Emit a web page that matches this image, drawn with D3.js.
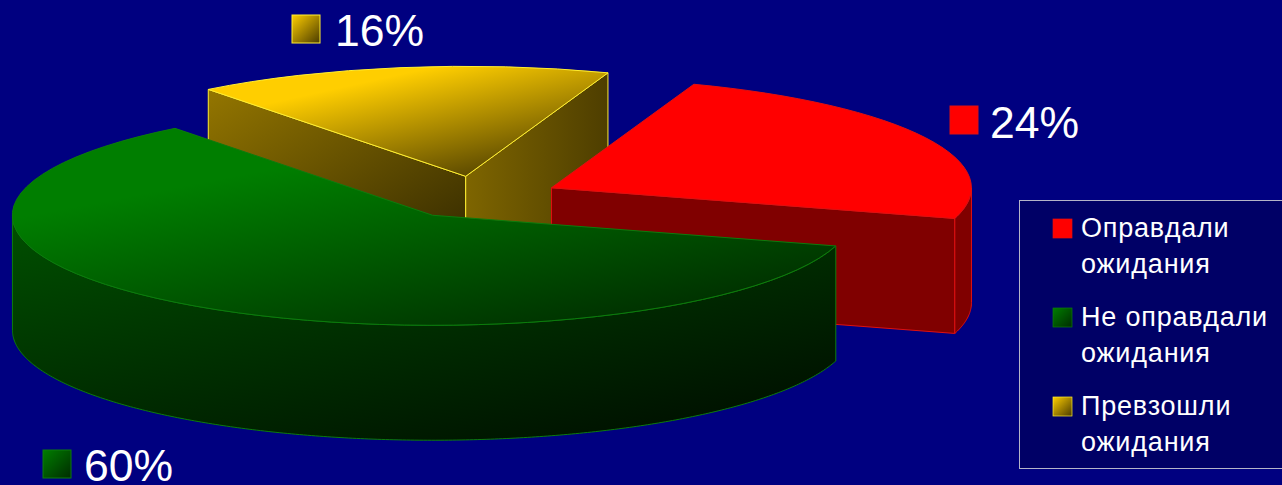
<!DOCTYPE html>
<meta charset="utf-8">
<style>
    html, body { margin: 0; padding: 0; background: #000080; overflow: hidden; }
    svg { display: block; }
    text { font-family: "Liberation Sans", Arial, sans-serif; fill: #fff; }
</style>
<body>
<script src="https://d3js.org/d3.v7.min.js"></script>
<script>
// data
var categories = ["Оправдали ожидания", "Не оправдали ожидания", "Превзошли ожидания"];
var legendLines = [["Оправдали", "ожидания"], ["Не оправдали", "ожидания"], ["Превзошли", "ожидания"]];
var values = [24, 60, 16];
var percentLabels = ["24%", "60%", "16%"];

// colours per slice
var topFrom = ["#ff0000", "#007e00", "#ffce00"];
var topTo = ["#ff0000", "#002c00", "#4a3b00"];
var wallFrom = ["#800000", "#005000", "#947600"];
var wallTo = ["#800000", "#001000", "#322800"];
var edge = ["#e01010", "#0c7c0c", "#ffee30"];

// layout
var width = 1282, height = 485;
var cx = 478.5, cy = 197.5, rx = 420, ry = 110, depth = 115, explode = 0.195;
var firstAngle = 19.8 * Math.PI / 180;
var labelPos = [[950, 106, 990, 138], [43, 450, 84, 481], [292, 15, 335, 46]];
var drawOrder = [2, 0, 1]; // back to front

var svg = d3.select("body").append("svg")
    .attr("width", width)
    .attr("height", height);
var defs = svg.append("defs");

function gradient(id, from, to, x2, y2, hold) {
    var g = defs.append("linearGradient").attr("id", id)
        .attr("x1", 0).attr("y1", 0).attr("x2", x2).attr("y2", y2);
    g.append("stop").attr("offset", (hold || 0) + "%").attr("stop-color", from);
    g.append("stop").attr("offset", "100%").attr("stop-color", to);
}
values.forEach(function (v, i) {
    gradient("top" + i, topFrom[i], topTo[i], 0.8, 1, 28);
    gradient("wall" + i, wallFrom[i], wallTo[i], 0.8, 1);
    gradient("swatch" + i, topFrom[i], topTo[i], 1, 1);
});
// the two inner walls of the yellow slice run in different directions
gradient("wallRight2", "#7e6500", "#4e3e00", 1, 0);

var pie = d3.pie().sort(null).startAngle(firstAngle).endAngle(firstAngle + 2 * Math.PI);
var arcs = pie(values);

// ellipse scales, unit circle to screen
var sx = d3.scaleLinear().domain([-1, 1]).range([cx - rx, cx + rx]);
var sy = d3.scaleLinear().domain([-1, 1]).range([cy - ry, cy + ry]);

function rimX(a, off) { return sx(Math.sin(a) + off.x); }
function rimY(a, off) { return sy(-Math.cos(a) + off.y); }

var arcGen = d3.arc().innerRadius(0).outerRadius(1);
var lineGen = d3.line().x(function (d) { return d[0]; }).y(function (d) { return d[1]; });

var chart = svg.append("g");

function radialWall(off, a, fill, col) {
    var x0 = sx(off.x), y0 = sy(off.y);
    var x1 = rimX(a, off), y1 = rimY(a, off);
    chart.append("path")
        .attr("d", lineGen([[x0, y0], [x1, y1], [x1, y1 + depth], [x0, y0 + depth]]) + "Z")
        .attr("fill", fill)
        .attr("stroke", col)
        .attr("stroke-width", 1);
}

drawOrder.forEach(function (i) {
    var d = arcs[i];
    var mid = (d.startAngle + d.endAngle) / 2;
    var off = { x: explode * Math.sin(mid), y: -explode * Math.cos(mid) };

    // flat walls along the two radii, only the ones facing the viewer
    if (Math.sin(d.startAngle) < 0) radialWall(off, d.startAngle, "url(#wall" + i + ")", edge[i]);
    if (Math.sin(d.endAngle) > 0) radialWall(off, d.endAngle, i === 2 ? "url(#wallRight2)" : "url(#wall" + i + ")", edge[i]);

    // curved outer wall, front half of the pie only
    var a0 = Math.max(d.startAngle, Math.PI / 2);
    var a1 = Math.min(d.endAngle, 3 * Math.PI / 2);
    if (a1 > a0) {
        var area = d3.area()
            .x(function (a) { return rimX(a, off); })
            .y0(function (a) { return rimY(a, off); })
            .y1(function (a) { return rimY(a, off) + depth; });
        chart.append("path")
            .attr("d", area(d3.range(a0, a1, 0.01).concat([a1])))
            .attr("fill", "url(#wall" + i + ")")
            .attr("stroke", edge[i])
            .attr("stroke-width", 1);
    }

    // top face
    chart.append("path")
        .attr("d", arcGen(d))
        .attr("transform", "translate(" + sx(off.x) + "," + sy(off.y) + ") scale(" + rx + "," + ry + ")")
        .attr("fill", "url(#top" + i + ")")
        .attr("stroke", edge[i])
        .attr("stroke-width", 1)
        .attr("vector-effect", "non-scaling-stroke");
});

// percent labels with their swatches
var labels = svg.append("g").selectAll("g").data(percentLabels).join("g");
labels.append("rect")
    .attr("x", function (d, i) { return labelPos[i][0]; })
    .attr("y", function (d, i) { return labelPos[i][1]; })
    .attr("width", 28).attr("height", 28)
    .attr("fill", function (d, i) { return "url(#swatch" + i + ")"; })
    .attr("stroke", function (d, i) { return edge[i]; })
    .attr("stroke-width", 1);
labels.append("text")
    .attr("x", function (d, i) { return labelPos[i][2]; })
    .attr("y", function (d, i) { return labelPos[i][3]; })
    .attr("font-size", 44.5)
    .text(function (d) { return d; });

// legend, its frame runs off the right edge of the picture
var legend = svg.append("g");
legend.append("rect")
    .attr("x", 1019.5).attr("y", 200.5)
    .attr("width", 300).attr("height", 268)
    .attr("fill", "#000066")
    .attr("stroke", "#b4b4c8")
    .attr("stroke-width", 1);

var legendY = d3.scalePoint().domain(categories).range([219, 397]);
var items = legend.selectAll("g.item").data(categories).join("g").attr("class", "item")
    .attr("transform", function (d) { return "translate(1053," + legendY(d) + ")"; });
items.append("rect")
    .attr("width", 19).attr("height", 19)
    .attr("fill", function (d, i) { return "url(#swatch" + i + ")"; })
    .attr("stroke", function (d, i) { return edge[i]; })
    .attr("stroke-width", 0.7);
items.each(function (d, i) {
    d3.select(this).selectAll("text").data(legendLines[i]).join("text")
        .attr("x", 28)
        .attr("y", function (t, j) { return 18 + j * 36; })
        .attr("font-size", 27)
        .attr("letter-spacing", 0.8)
        .text(function (t) { return t; });
});
</script>
</body>
